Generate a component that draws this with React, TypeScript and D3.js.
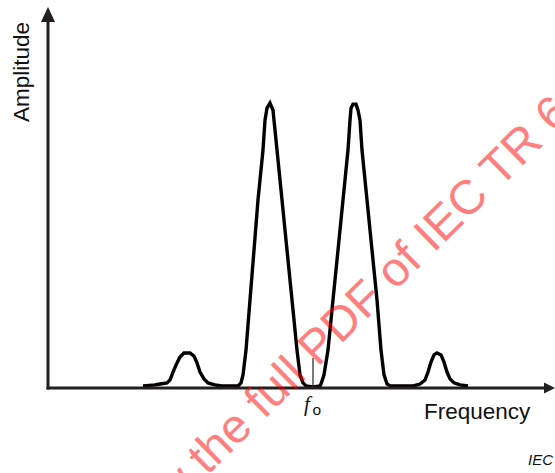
import React from "react";
import * as d3 from "d3";

// Spectrum trace: frequency (arbitrary units) vs amplitude (% of main lobe peak)
const freq = [
  19.0, 21.4, 22.4, 23.8, 24.4, 25.0, 25.8, 26.4, 27.2, 28.4, 29.2, 29.8, 30.4, 31.2, 32.0, 33.4, 34.8,
  38.0, 38.6, 39.0, 39.6, 40.4, 41.2, 42.0, 43.0, 43.4, 43.8, 44.4, 45.0, 45.2, 45.8, 46.8, 47.8, 48.8, 49.8, 50.4, 51.0, 51.6,
  53.0, 54.4, 54.6, 55.2, 56.0, 57.0, 58.0, 59.0, 60.0, 60.4, 60.6, 61.0, 61.6, 62.0, 62.4, 62.8, 63.8, 64.8, 65.8, 66.6, 67.2, 67.8, 68.4,
  73.0, 74.4, 75.4, 76.0, 76.6, 77.2, 77.8, 78.6, 79.2, 79.8, 80.4, 81.2, 82.4, 84.0,
];
const amp = [
  0.7, 1.1, 1.4, 1.8, 2.8, 5.6, 8.8, 10.9, 12.3, 12.3, 11.2, 8.8, 5.6, 3.2, 1.8, 1.1, 0.7,
  0.7, 1.8, 4.6, 13.3, 30.9, 48.4, 66.0, 83.5, 94.0, 98.2, 100, 97.5, 94.0, 83.5, 66.0, 48.4, 30.9, 13.3, 4.6, 1.8, 0.7,
  0.4, 0.7, 1.4, 4.6, 13.3, 30.9, 48.4, 66.0, 83.5, 94.0, 98.2, 99.6, 99.6, 97.5, 94.0, 83.5, 66.0, 48.4, 30.9, 13.3, 4.6, 1.4, 0.7,
  0.7, 1.4, 2.8, 5.6, 9.1, 11.6, 12.3, 11.6, 9.1, 5.6, 3.2, 1.8, 1.1, 0.7,
];

const centreFreq = 53.0; // f0 marker position
const centreTick = 10.5; // marker height in amplitude units

const axisLabels = { x: "Frequency", y: "Amplitude" };
const watermark = ["Click to view", "the full PDF of IEC TR 61000-4-30"];

const W = 555;
const H = 473;

export default function App() {
  const x = d3.scaleLinear().domain([0, 100]).range([48, 548]);
  const y = d3.scaleLinear().domain([0, 100]).range([388, 103]);

  const pts: [number, number][] = freq.map((f, i) => [f, amp[i]]);
  const line = d3
    .line<[number, number]>()
    .x((d) => x(d[0]))
    .y((d) => y(d[1]))
    .curve(d3.curveLinear);

  const axisColor = "#231f20";
  const ox = x(0);
  const oy = y(0);

  // watermark anchor, baseline start of "the"
  const wx = 207;
  const wy = 476;
  const angle = -44.5;
  const wmSize = 48;

  return (
    <svg
      width={W}
      height={H}
      style={{ position: "absolute", left: 0, top: 0, background: "#fff" }}
    >
      {/* spectrum trace */}
      <path d={line(pts) ?? ""} fill="none" stroke="#000" strokeWidth={3.4} strokeLinejoin="miter" />

      {/* centre frequency marker */}
      <line x1={x(centreFreq)} x2={x(centreFreq)} y1={y(centreTick)} y2={oy} stroke="#222" strokeWidth={1.2} />

      {/* axes */}
      <line x1={ox} x2={ox} y1={oy + 1.5} y2={18} stroke={axisColor} strokeWidth={3} />
      <line x1={ox - 1.5} x2={546} y1={oy} y2={oy} stroke={axisColor} strokeWidth={3} />
      <path d={`M${ox},7 L${ox + 7},22 L${ox - 7},22 Z`} fill={axisColor} />
      <path d={`M555,${oy} L544,${oy - 5.5} L544,${oy + 5.5} Z`} fill={axisColor} />

      {/* axis titles */}
      <text
        x={0}
        y={0}
        transform={`translate(29,72) rotate(-90)`}
        textAnchor="middle"
        fontFamily="Liberation Sans, Arial, sans-serif"
        fontSize={22.5}
        fill="#111"
      >
        {axisLabels.y}
      </text>
      <text x={424} y={419} fontFamily="Liberation Sans, Arial, sans-serif" fontSize={22.5} fill="#111">
        {axisLabels.x}
      </text>

      {/* f0 label */}
      <text x={304} y={411} fontFamily="Liberation Serif, Times New Roman, serif" fontStyle="italic" fontSize={21} fill="#111">
        f
      </text>
      <text x={312.5} y={415} fontFamily="Liberation Sans, Arial, sans-serif" fontSize={15.5} fill="#111">
        o
      </text>

      {/* figure source tag */}
      <text x={528} y={465} fontFamily="Liberation Sans, Arial, sans-serif" fontStyle="italic" fontSize={15} fill="#111">
        IEC
      </text>

      {/* watermark */}
      <g transform={`translate(${wx},${wy}) rotate(${angle})`} opacity={0.5}>
        <text x={-13} y={0} textAnchor="end" fontFamily="Liberation Sans, Arial, sans-serif" fontSize={wmSize} fill="#ff0000">
          {watermark[0]}
        </text>
        <text x={0} y={0} fontFamily="Liberation Sans, Arial, sans-serif" fontSize={wmSize} fill="#ff0000">
          {watermark[1]}
        </text>
      </g>
    </svg>
  );
}
